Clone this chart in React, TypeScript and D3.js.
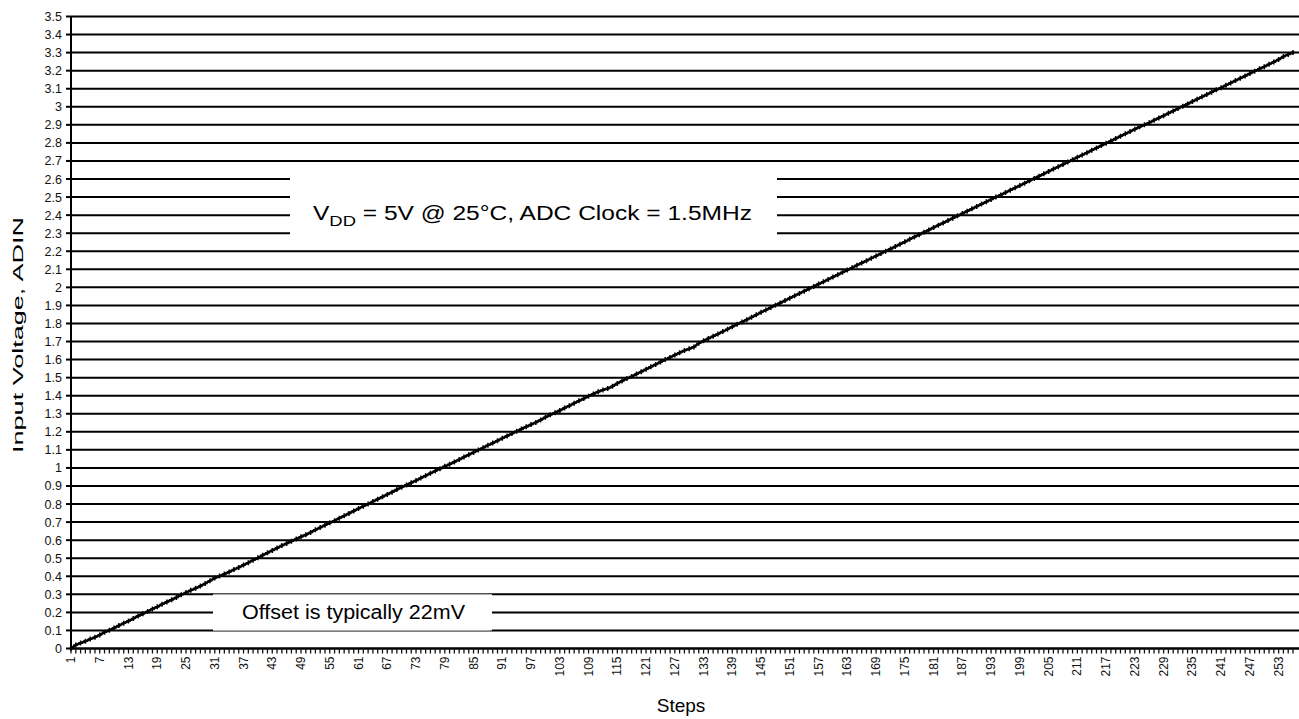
import React from "react";
import * as d3 from "d3";

const W = 1299;
const H = 719;

// Steps 1..256
const steps: number[] = Array.from({ length: 256 }, (_, i) => i + 1);

// Input voltage (V), one value per step
const voltage: number[] = [
  0.000, 0.020, 0.030, 0.040, 0.052, 0.062, 0.075, 0.090, 0.101, 0.114, 0.127, 0.140, 0.152, 0.166, 0.180, 0.192,
  0.205, 0.219, 0.231, 0.245, 0.258, 0.270, 0.283, 0.297, 0.310, 0.322, 0.333, 0.346, 0.360, 0.375, 0.390, 0.401,
  0.412, 0.424, 0.437, 0.449, 0.462, 0.475, 0.489, 0.502, 0.517, 0.530, 0.543, 0.556, 0.570, 0.582, 0.594, 0.606,
  0.619, 0.630, 0.643, 0.657, 0.670, 0.683, 0.696, 0.708, 0.722, 0.735, 0.748, 0.762, 0.775, 0.788, 0.800, 0.814,
  0.827, 0.840, 0.853, 0.866, 0.880, 0.893, 0.905, 0.918, 0.930, 0.944, 0.957, 0.970, 0.983, 0.996, 1.009, 1.020,
  1.033, 1.046, 1.060, 1.073, 1.086, 1.099, 1.112, 1.125, 1.138, 1.151, 1.164, 1.177, 1.190, 1.203, 1.216, 1.228,
  1.240, 1.252, 1.266, 1.280, 1.294, 1.306, 1.318, 1.332, 1.345, 1.358, 1.372, 1.384, 1.397, 1.410, 1.422, 1.432,
  1.440, 1.452, 1.468, 1.482, 1.495, 1.507, 1.520, 1.533, 1.546, 1.560, 1.573, 1.586, 1.600, 1.612, 1.625, 1.638,
  1.650, 1.660, 1.670, 1.690, 1.704, 1.717, 1.729, 1.742, 1.755, 1.768, 1.782, 1.795, 1.808, 1.821, 1.834, 1.848,
  1.862, 1.875, 1.888, 1.901, 1.914, 1.927, 1.940, 1.953, 1.966, 1.979, 1.992, 2.005, 2.018, 2.031, 2.044, 2.057,
  2.070, 2.083, 2.096, 2.109, 2.122, 2.135, 2.148, 2.161, 2.174, 2.187, 2.200, 2.213, 2.226, 2.239, 2.252, 2.266,
  2.279, 2.292, 2.305, 2.318, 2.331, 2.344, 2.357, 2.370, 2.383, 2.396, 2.409, 2.422, 2.435, 2.448, 2.461, 2.474,
  2.487, 2.500, 2.512, 2.525, 2.538, 2.551, 2.564, 2.577, 2.590, 2.603, 2.616, 2.629, 2.642, 2.655, 2.668, 2.681,
  2.694, 2.707, 2.720, 2.733, 2.746, 2.759, 2.772, 2.785, 2.798, 2.811, 2.824, 2.837, 2.850, 2.863, 2.876, 2.889,
  2.900, 2.912, 2.925, 2.938, 2.951, 2.964, 2.977, 2.990, 3.003, 3.016, 3.029, 3.042, 3.055, 3.068, 3.081, 3.094,
  3.106, 3.119, 3.132, 3.145, 3.158, 3.171, 3.184, 3.197, 3.210, 3.222, 3.235, 3.248, 3.262, 3.278, 3.290, 3.300,
];

// Y tick values 0..3.5 by 0.1
const yTicks: number[] = [
  0, 0.1, 0.2, 0.3, 0.4, 0.5, 0.6, 0.7, 0.8, 0.9, 1, 1.1, 1.2, 1.3, 1.4, 1.5, 1.6, 1.7, 1.8, 1.9,
  2, 2.1, 2.2, 2.3, 2.4, 2.5, 2.6, 2.7, 2.8, 2.9, 3, 3.1, 3.2, 3.3, 3.4, 3.5,
];

// X tick labels every 6 steps
const xLabels: number[] = [
  1, 7, 13, 19, 25, 31, 37, 43, 49, 55, 61, 67, 73, 79, 85, 91, 97, 103, 109, 115, 121, 127, 133, 139,
  145, 151, 157, 163, 169, 175, 181, 187, 193, 199, 205, 211, 217, 223, 229, 235, 241, 247, 253,
];

const FONT = "'Liberation Sans', Arial, sans-serif";

export default function App() {
  const left = 71;
  const gridRight = 1299;
  const x = d3.scalePoint<number>().domain(steps).range([71, 1293]);
  const y = d3.scaleLinear().domain([0, 3.5]).range([648.5, 16.5]);

  const line = d3
    .line<number>()
    .x((_, i) => x(steps[i]) as number)
    .y((d) => y(d));

  const fmt = (v: number) => {
    const s = v.toFixed(1);
    return s.endsWith(".0") ? s.slice(0, -2) : s;
  };

  const vddBox = { x0: 290, x1: 777, top: y(2.6) - 6, bottom: y(2.3) + 6 };
  const offBox = { x0: 213, x1: 492, top: y(0.3), bottom: y(0.1) };

  return (
    <svg
      width={W}
      height={H}
      style={{ position: "absolute", left: 0, top: 0, background: "#fff" }}
      fontFamily={FONT}
    >
      <rect x={0} y={0} width={W} height={H} fill="#fff" />
      {yTicks.map((t) => (
        <line
          key={"g" + t}
          x1={left}
          x2={gridRight}
          y1={y(t)}
          y2={y(t)}
          stroke="#000"
          strokeWidth={2}
        />
      ))}
      {yTicks.map((t) => (
        <g key={"yt" + t}>
          <line x1={left - 5} x2={left} y1={y(t)} y2={y(t)} stroke="#000" strokeWidth={2} />
          <text
            x={left - 9}
            y={y(t)}
            dy="0.36em"
            textAnchor="end"
            fontSize={12.5}
            fill="#111"
          >
            {fmt(t)}
          </text>
        </g>
      ))}
      <line x1={left} x2={left} y1={y(3.5)} y2={y(0) + 1} stroke="#000" strokeWidth={2} />
      <line x1={left} x2={gridRight} y1={y(0)} y2={y(0)} stroke="#000" strokeWidth={2} />
      {steps.map((s) => (
        <line
          key={"xt" + s}
          x1={x(s) as number}
          x2={x(s) as number}
          y1={y(0)}
          y2={y(0) + 5}
          stroke="#111"
          strokeWidth={1.3}
        />
      ))}
      {xLabels.map((s) => (
        <text
          key={"xl" + s}
          transform={`translate(${(x(s) as number) + 4},${y(0) + 8}) rotate(-90)`}
          textAnchor="end"
          fontSize={12}
          fill="#111"
        >
          {s}
        </text>
      ))}
      <path d={line(voltage) || ""} fill="none" stroke="#000" strokeWidth={2.5} />
      {voltage.map((v, i) => {
        const cx = x(steps[i]) as number;
        const cy = y(v);
        return (
          <path
            key={"m" + i}
            d={`M${cx - 2.5},${cy}H${cx + 2.5}M${cx},${cy - 2.5}V${cy + 2.5}`}
            stroke="#000"
            strokeWidth={1.5}
          />
        );
      })}
      <rect
        x={vddBox.x0}
        y={vddBox.top}
        width={vddBox.x1 - vddBox.x0}
        height={vddBox.bottom - vddBox.top}
        fill="#fff"
      />
      <text x={313} y={220} fontSize={20} fill="#000" textLength={439} lengthAdjust="spacingAndGlyphs">
        <tspan>V</tspan>
        <tspan fontSize={15} dy={6}>DD</tspan>
        <tspan dy={-6}> = 5V @ 25°C, ADC Clock = 1.5MHz</tspan>
      </text>
      <rect
        x={offBox.x0}
        y={offBox.top}
        width={offBox.x1 - offBox.x0}
        height={offBox.bottom - offBox.top}
        fill="#fff"
      />
      <line x1={offBox.x0} x2={offBox.x1 - 2} y1={offBox.top} y2={offBox.top} stroke="#aaa" strokeWidth={1} />
      <line x1={offBox.x0} x2={offBox.x1 - 2} y1={offBox.bottom} y2={offBox.bottom} stroke="#aaa" strokeWidth={1} />
      <text x={242} y={619} fontSize={19.5} fill="#000" textLength={223} lengthAdjust="spacingAndGlyphs">
        Offset is typically 22mV
      </text>
      <text
        transform={`translate(23,335) rotate(-90)`}
        textAnchor="middle"
        fontSize={15}
        fill="#000"
        textLength={236}
        lengthAdjust="spacingAndGlyphs"
      >
        Input Voltage, ADIN
      </text>
      <text x={681} y={712} textAnchor="middle" fontSize={19} fill="#000">
        Steps
      </text>
    </svg>
  );
}
